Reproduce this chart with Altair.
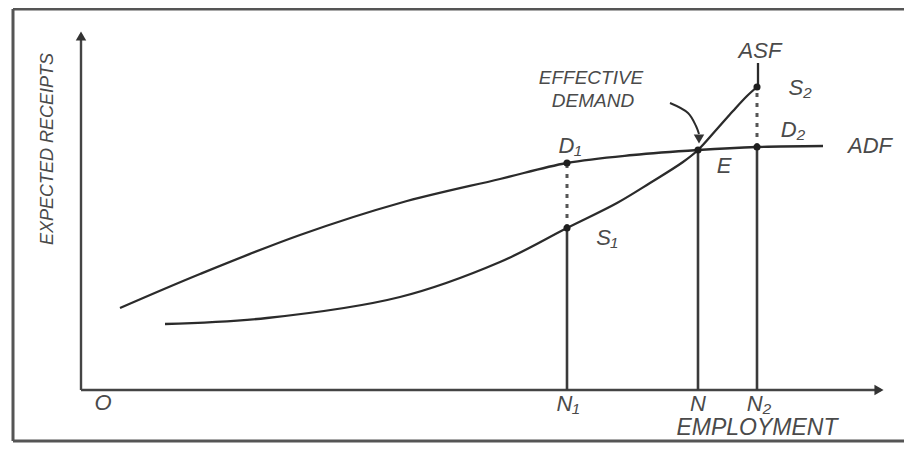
import altair as alt
import pandas as pd

# Coordinates in diagram units (origin O at 0,0)
adf_x = [39, 119, 219, 319, 419, 486, 552, 617, 676, 742]
adf_y = [82, 116, 155, 187, 211, 227, 235, 240, 243, 244]

asf_x = [84, 186, 319, 419, 486, 536, 569, 602, 617, 636, 652, 666, 676]
asf_y = [66, 72, 93, 128, 162, 187, 207, 228, 240, 261, 279, 294, 303]
asf_top = [303, 327]

# Employment levels N1, N, N2 and the curve values there
emp_x = [486, 617, 676]
solid_top = [162, 240, 243]          # S1, E, D2
dash_x = [486, 676]
dash_from = [162, 243]               # S1, D2
dash_to = [227, 303]                 # D1, S2

pt_names = ["D1", "S1", "E", "D2", "S2"]
pt_x = [486, 486, 617, 676, 676]
pt_y = [227, 162, 240, 243, 303]

arrow_x = [589, 607, 615, 618]
arrow_y = [287, 277, 264, 256]

labels = ["ASF", "S₂", "D₂", "ADF", "E", "D₁", "S₁", "EFFECTIVE", "DEMAND",
          "O", "N₁", "N", "N₂", "EMPLOYMENT"]
lab_x = [679, 719, 712, 789, 643, 489, 526, 510, 512, 22, 487, 617, 678, 676]
lab_y = [339, 302, 260, 244, 224, 244, 152, 312, 289, -13, -14, -14, -14, -38]
lab_size = [22, 22, 22, 22, 22, 22, 22, 19, 19, 22, 22, 22, 22, 23]

X_DOM = [-73, 823]
Y_DOM = [-53, 382]
xs = alt.Scale(domain=X_DOM, nice=False, zero=False)
ys = alt.Scale(domain=Y_DOM, nice=False, zero=False)

def X(f="x"):
    return alt.X(f"{f}:Q", scale=xs, axis=None)

def Y(f="y"):
    return alt.Y(f"{f}:Q", scale=ys, axis=None)

INK = "#2b2b2b"
TXT = "#4a4a4a"

adf = pd.DataFrame({"x": adf_x, "y": adf_y})
asf = pd.DataFrame({"x": asf_x, "y": asf_y})

curves = alt.layer(
    alt.Chart(adf).mark_line(interpolate="catmull-rom", color=INK, strokeWidth=2.3).encode(x=X(), y=Y()),
    alt.Chart(asf).mark_line(interpolate="catmull-rom", color=INK, strokeWidth=2.3).encode(x=X(), y=Y()),
    alt.Chart(pd.DataFrame({"x": [677], "y": [asf_top[0]], "y2": [asf_top[1]]})).mark_rule(
        color=INK, strokeWidth=2.3).encode(x=X(), y=Y(), y2="y2:Q"),
)

verts = alt.Chart(pd.DataFrame({"x": emp_x, "y": [0, 0, 0], "y2": solid_top})).mark_rule(
    color="#3a3a3a", strokeWidth=2.6).encode(x=X(), y=Y(), y2="y2:Q")

dashes = alt.Chart(pd.DataFrame({"x": dash_x, "y": dash_from, "y2": dash_to})).mark_rule(
    color="#555555", strokeWidth=3, strokeDash=[4, 6]).encode(x=X(), y=Y(), y2="y2:Q")

points = alt.Chart(pd.DataFrame({"x": pt_x, "y": pt_y, "name": pt_names})).mark_point(
    shape="circle", filled=True, size=50, color="#1f1f1f", opacity=1).encode(x=X(), y=Y())

# Axes with arrowheads
axes = alt.layer(
    alt.Chart(pd.DataFrame({"x": [0], "y": [0], "y2": [356]})).mark_rule(
        color="#444444", strokeWidth=2.4).encode(x=X(), y=Y(), y2="y2:Q"),
    alt.Chart(pd.DataFrame({"x": [0], "x2": [800], "y": [0]})).mark_rule(
        color="#444444", strokeWidth=2.4).encode(x=X(), x2="x2:Q", y=Y()),
    alt.Chart(pd.DataFrame({"x": [0], "y": [354]})).mark_point(
        shape="triangle-up", filled=True, size=110, color="#333333", opacity=1).encode(x=X(), y=Y()),
    alt.Chart(pd.DataFrame({"x": [798], "y": [0]})).mark_point(
        shape="triangle-right", filled=True, size=110, color="#333333", opacity=1).encode(x=X(), y=Y()),
)

# Frame
frame = alt.layer(
    alt.Chart(pd.DataFrame({"x": [-68], "y": [-51], "y2": [381]})).mark_rule(
        color="#555555", strokeWidth=3).encode(x=X(), y=Y(), y2="y2:Q"),
    alt.Chart(pd.DataFrame({"x": [-68], "x2": [823], "y": [381]})).mark_rule(
        color="#555555", strokeWidth=3).encode(x=X(), x2="x2:Q", y=Y()),
    alt.Chart(pd.DataFrame({"x": [-68], "x2": [823], "y": [-51]})).mark_rule(
        color="#555555", strokeWidth=3).encode(x=X(), x2="x2:Q", y=Y()),
)

# Effective demand arrow
arrow = alt.layer(
    alt.Chart(pd.DataFrame({"x": arrow_x, "y": arrow_y})).mark_line(
        interpolate="catmull-rom", color=INK, strokeWidth=2).encode(x=X(), y=Y()),
    alt.Chart(pd.DataFrame({"x": [618], "y": [251]})).mark_point(
        shape="triangle-down", filled=True, size=110, color="#333333", opacity=1).encode(x=X(), y=Y()),
)

lab_df = pd.DataFrame({"x": lab_x, "y": lab_y, "t": labels, "s": lab_size})
texts = alt.Chart(lab_df).mark_text(
    font="Liberation Sans", fontStyle="italic", color=TXT, align="center", baseline="middle"
).encode(x=X(), y=Y(), text="t:N", size=alt.Size("s:Q", scale=None, legend=None))

ylab = alt.Chart(pd.DataFrame({"x": [-33], "y": [241], "t": ["EXPECTED RECEIPTS"]})).mark_text(
    font="Liberation Sans", fontStyle="italic", color=TXT, align="center", baseline="middle",
    angle=270, fontSize=18).encode(x=X(), y=Y(), text="t:N")

chart = alt.layer(frame, axes, curves, verts, dashes, arrow, points, texts, ylab).properties(
    width=896, height=435, padding=0, autosize=alt.AutoSizeParams(type="none"),
    background="white"
).configure_view(stroke=None)

chart.save("out.html", embed_options={"renderer": "svg", "actions": False})
